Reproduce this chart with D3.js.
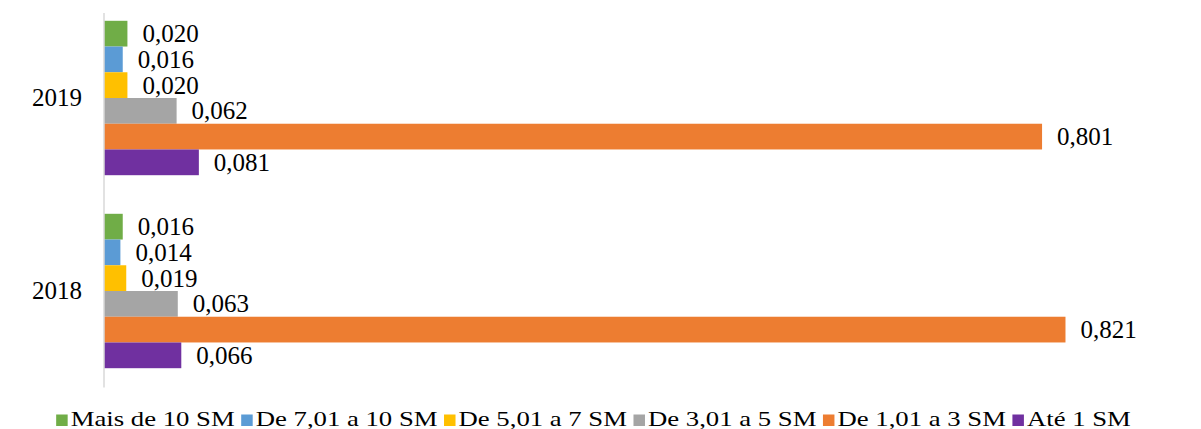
<!DOCTYPE html>
<html>
<head>
<meta charset="utf-8">
<script src="https://cdn.jsdelivr.net/npm/d3@7"></script>
<style>
  body { margin: 0; background: #fff; }
  svg { display: block; font-family: "Liberation Serif", "Times New Roman", serif; }
</style>
</head>
<body>
<svg id="chart" width="1201" height="429"></svg>
<script>
// Distribuição por faixa salarial, 2019 x 2018 (barras horizontais agrupadas)
const years = ['2019', '2018'];
const series = ['Mais de 10 SM', 'De 7,01 a 10 SM', 'De 5,01 a 7 SM', 'De 3,01 a 5 SM', 'De 1,01 a 3 SM', 'Até 1 SM'];
const colors = ['#70AD47', '#5B9BD5', '#FFC000', '#A5A5A5', '#ED7D31', '#7030A0'];
const values2019 = [0.020, 0.016, 0.020, 0.062, 0.801, 0.081];
const values2018 = [0.016, 0.014, 0.019, 0.063, 0.821, 0.066];
const valuesByYear = { '2019': values2019, '2018': values2018 };

const svg = d3.select('#chart');
const X0 = 104, X1 = 1158;
const LABEL_PAD = 15;

const x = d3.scaleLinear().domain([0, 0.9]).range([X0, X1]);
const y = d3.scaleBand().domain(years).range([1.5, 387.5]).paddingInner(0.2).paddingOuter(0.1);
const ySub = d3.scaleBand().domain(series).range([0, y.bandwidth()]);
const color = d3.scaleOrdinal().domain(series).range(colors);
const fmt = v => v.toFixed(3).replace('.', ',');

const rows = [];
years.forEach(yr => {
  series.forEach((s, i) => rows.push({ year: yr, key: s, v: valuesByYear[yr][i] }));
});

// barras
svg.append('g').selectAll('rect').data(rows).join('rect')
  .attr('x', x(0))
  .attr('y', d => y(d.year) + ySub(d.key))
  .attr('width', d => x(d.v) - x(0))
  .attr('height', ySub.bandwidth())
  .attr('fill', d => color(d.key));

// rótulos de valor
svg.append('g').selectAll('text').data(rows).join('text')
  .attr('x', d => x(d.v) + LABEL_PAD)
  .attr('y', d => y(d.year) + ySub(d.key) + ySub.bandwidth() / 2 + 8.5)
  .style('font-size', '25px')
  .style('fill', '#000')
  .text(d => fmt(d.v));

// eixo das categorias
const yAxisG = svg.append('g').attr('transform', `translate(${X0},0)`)
  .call(d3.axisLeft(y).tickSize(0).tickPadding(22));
yAxisG.select('.domain').remove();
yAxisG.selectAll('text')
  .style('font-family', '"Liberation Serif", "Times New Roman", serif')
  .style('font-size', '25px')
  .style('fill', '#000');
svg.append('line')
  .attr('x1', X0).attr('x2', X0)
  .attr('y1', 13).attr('y2', y.range()[1])
  .attr('stroke', '#D9D9D9').attr('stroke-width', 1.5);

// legenda (texto um pouco esticado na horizontal, como no original)
const LEG_BASE = 426, SW = 11.5, SW_GAP = 3, ITEM_GAP = 6.5, LEG_CENTER = 593.5, STRETCH = 1.215;
const legend = svg.append('g');
const items = legend.selectAll('g').data(series).join('g');
items.append('rect')
  .attr('y', LEG_BASE - SW).attr('width', SW).attr('height', SW)
  .attr('fill', d => color(d));
items.append('g')
  .attr('transform', `translate(${SW + SW_GAP},${LEG_BASE}) scale(${STRETCH},1)`)
  .append('text')
  .style('font-size', '22px').style('fill', '#000')
  .text(d => d);
let cx = 0;
const offsets = [];
items.each(function () {
  offsets.push(cx);
  cx += SW + SW_GAP + d3.select(this).select('text').node().getComputedTextLength() * STRETCH + ITEM_GAP;
});
const total = cx - ITEM_GAP;
items.attr('transform', (d, i) => `translate(${LEG_CENTER - total / 2 + offsets[i]},0)`);
</script>
</body>
</html>
